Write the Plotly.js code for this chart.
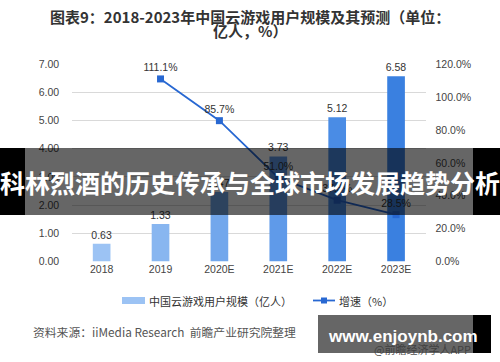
<!DOCTYPE html>
<html><head><meta charset="utf-8">
<script src="https://cdn.plot.ly/plotly-3.0.1.min.js"></script>
<style>html,body{margin:0;padding:0;background:#fff}#c{width:500px;height:362px}</style>
</head><body><div id="c"></div>
<script>
const categories = ['2018','2019','2020E','2021E','2022E','2023E'];
const users = [0.63, 1.33, 2.47, 3.73, 5.12, 6.58];
const growthX = ['2019','2020E','2021E','2022E','2023E'];
const growth = [111.1, 85.7, 51.0, 37.3, 28.5];
const barColors = ['#9cc3f4','#88b6f0','#72a7ec','#5f9ae9','#4a8ce5','#3a80e0'];
const titleLine1 = '图表9：2018-2023年中国云游戏用户规模及其预测（单位：';
const titleLine2 = '亿人，%）';
const legendBar = '中国云游戏用户规模（亿人）';
const legendLine = '增速（%）';
const sourceText = '资料来源：iiMedia Research  前瞻产业研究院整理';
const bannerText = '科林烈酒的历史传承与全球市场发展趋势分析';
const wmText = 'www.enjoynb.com';
const wmSub = '@前瞻经济学人APP';

const F = 'Liberation Sans, Noto Sans CJK SC, sans-serif';
const FC = 'Noto Sans CJK SC, Liberation Sans, sans-serif';
const W = 500, H = 362;
const px = x => x / W, py = y => 1 - y / H;
const lineColor = '#2868d2';

const traces = [
  {type:'bar', x:categories, y:users, marker:{color:barColors}, width:0.3,
   text:users.map(v=>v.toFixed(2)), textposition:'outside', cliponaxis:false, constraintext:'none',
   textfont:{family:F, size:10.5, color:'#333'}, hoverinfo:'skip', yaxis:'y'},
  {type:'scatter', mode:'lines+markers+text', x:growthX, y:growth, yaxis:'y2',
   line:{color:lineColor, width:1.8}, marker:{symbol:'square', size:7, color:lineColor},
   text:growth.map(v=>v.toFixed(1)+'%'), textposition:'top center', cliponaxis:false,
   textfont:{family:F, size:10.5, color:'#333'}, hoverinfo:'skip'}
];

const ann = (text, x, y, xa, size, color, family) => ({text, xref:'paper', yref:'paper', x, y,
  xanchor:xa, yanchor:'middle', showarrow:false, font:{family:family||FC, size, color}});

const layout = {
  width:W, height:H, margin:{l:0,r:0,t:0,b:0}, showlegend:false,
  paper_bgcolor:'#fff', plot_bgcolor:'#fff',
  font:{family:F, size:10.5, color:'#444'},
  xaxis:{domain:[px(72.2), px(425.5)], type:'category', showgrid:false, zeroline:false,
         showline:false, ticks:'', tickfont:{family:F, size:10.5, color:'#444'}, automargin:false},
  yaxis:{domain:[py(261.5), py(64.3)], range:[0,7], dtick:1, tickformat:'.2f',
         showgrid:true, gridcolor:'#d9d9d9', gridwidth:1, zeroline:false, showline:false,
         ticks:'', ticklabelstandoff:12, tickfont:{family:F, size:10.5, color:'#444'}, automargin:false},
  yaxis2:{overlaying:'y', side:'right', range:[0,120], dtick:20, tickformat:'.1f', ticksuffix:'%',
          showgrid:false, zeroline:false, showline:false, ticks:'', ticklabelstandoff:9,
          tickfont:{family:F, size:10.5, color:'#444'}, automargin:false},
  shapes:[
    {type:'rect', xref:'paper', yref:'paper', x0:px(122), x1:px(145), y0:py(304), y1:py(297),
     fillcolor:'#9cc3f4', line:{width:0}},
    {type:'line', xref:'paper', yref:'paper', x0:px(313), x1:px(335), y0:py(300.5), y1:py(300.5),
     line:{color:lineColor, width:1.8}},
    {type:'rect', xref:'paper', yref:'paper', x0:px(321), x1:px(327), y0:py(303.5), y1:py(297.5),
     fillcolor:lineColor, line:{width:0}},
    {type:'rect', xref:'paper', yref:'paper', layer:'above', x0:px(25), x1:px(473), y0:py(215), y1:py(148),
     fillcolor:'rgba(0,0,0,0.6)', line:{width:0}},
    {type:'rect', xref:'paper', yref:'paper', layer:'above', x0:0, x1:px(25), y0:py(215), y1:py(148),
     fillcolor:'#000', line:{width:0}},
    {type:'rect', xref:'paper', yref:'paper', layer:'above', x0:px(473), x1:1, y0:py(215), y1:py(148),
     fillcolor:'#000', line:{width:0}},
    {type:'rect', xref:'paper', yref:'paper', layer:'above', x0:px(318), x1:px(473), y0:py(353), y1:py(315),
     fillcolor:'rgba(0,0,0,0.6)', line:{width:0}},
    {type:'rect', xref:'paper', yref:'paper', layer:'above', x0:px(473), x1:px(491), y0:py(353), y1:py(315),
     fillcolor:'#000', line:{width:0}}
  ],
  annotations:[
    ann('<b>'+titleLine1+'</b>', 0.5, py(16), 'center', 15, '#333'),
    ann('<b>'+titleLine2+'</b>', 0.5, py(30), 'center', 15, '#333'),
    ann(legendBar, px(147), py(300.5), 'left', 11, '#333'),
    ann(legendLine, px(337), py(300.5), 'left', 11, '#333'),
    ann(sourceText, px(31), py(331), 'left', 11.8, '#555'),
    ann(wmSub, px(473), py(349), 'right', 11, 'rgba(60,60,60,0.9)'),
    ann('<b>'+bannerText+'</b>', 0.5, py(182), 'center', 25, '#fff'),
    ann('<b>'+wmText+'</b>', px(403), py(336), 'center', 17, '#fff', 'Liberation Sans, DejaVu Sans, sans-serif')
  ]
};
Plotly.newPlot('c', traces, layout, {staticPlot:true, displayModeBar:false});
</script></body></html>
